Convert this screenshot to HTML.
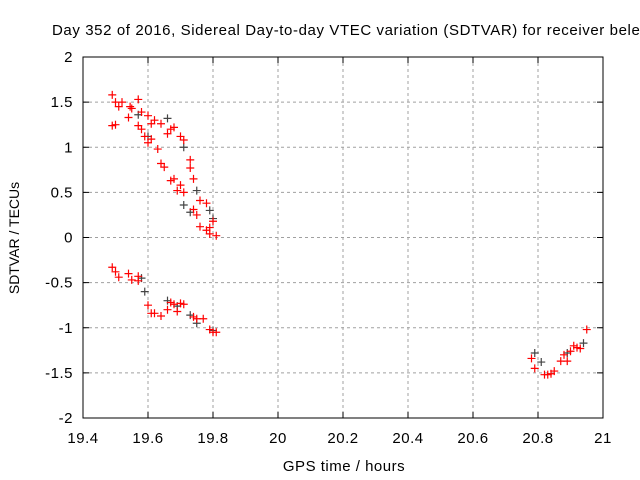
<!DOCTYPE html>
<html><head><meta charset="utf-8"><style>
body{margin:0;background:#fff;}
svg{display:block;font-family:"Liberation Sans",sans-serif;}
</style></head><body>
<svg id="chart" width="640" height="480" viewBox="0 0 640 480">
<text x="52" y="35" font-size="15" letter-spacing="0.6" fill="#000">Day 352 of 2016, Sidereal Day-to-day VTEC variation (SDTVAR) for receiver bele</text>
<g id="grid"></g><g id="axes"></g><g id="marks"></g>
<text x="344" y="471" font-size="15" letter-spacing="0.5" text-anchor="middle">GPS time / hours</text>
<text transform="translate(19,238) rotate(-90)" font-size="14" text-anchor="middle">SDTVAR / TECUs</text>
</svg>
<script>
const xTicks=[19.4,19.6,19.8,20,20.2,20.4,20.6,20.8,21];
const yTicks=[-2,-1.5,-1,-0.5,0,0.5,1,1.5,2];
const redX=[19.49,19.50,19.51,19.52,19.49,19.50,19.54,19.545,19.55,19.57,19.57,19.58,19.58,19.59,19.60,19.60,19.61,19.61,19.62,19.63,19.64,19.64,19.65,19.66,19.67,19.67,19.68,19.68,19.69,19.70,19.70,19.71,19.73,19.73,19.74,19.74,19.75,19.76,19.76,19.78,19.78,19.79,19.80,19.81,19.79,19.71,
19.49,19.50,19.51,19.54,19.55,19.57,19.57,19.60,19.61,19.62,19.64,19.66,19.67,19.68,19.69,19.70,19.71,19.74,19.75,19.77,19.79,19.80,19.81,
20.78,20.79,20.82,20.83,20.84,20.85,20.87,20.88,20.89,20.90,20.91,20.92,20.93,20.95];
const redY=[1.58,1.50,1.45,1.50,1.24,1.25,1.33,1.45,1.43,1.53,1.24,1.39,1.20,1.12,1.35,1.05,1.26,1.09,1.30,0.98,1.26,0.82,0.78,1.15,1.20,0.63,0.65,1.22,0.52,0.58,1.12,1.08,0.86,0.77,0.65,0.31,0.25,0.41,0.12,0.38,0.08,0.04,0.18,0.02,0.11,0.50,
-0.33,-0.38,-0.44,-0.40,-0.47,-0.48,-0.43,-0.75,-0.84,-0.84,-0.87,-0.80,-0.72,-0.74,-0.82,-0.73,-0.74,-0.88,-0.90,-0.90,-1.02,-1.05,-1.05,
-1.34,-1.45,-1.52,-1.52,-1.51,-1.48,-1.37,-1.30,-1.37,-1.26,-1.20,-1.22,-1.23,-1.02];
const grayX=[19.57,19.60,19.66,19.71,19.71,19.73,19.75,19.79,19.80,19.58,19.59,19.66,19.69,19.73,19.75,19.80,20.79,20.81,20.94,20.89];
const grayY=[1.36,1.12,1.32,1.00,0.36,0.28,0.52,0.30,0.21,-0.45,-0.60,-0.70,-0.76,-0.86,-0.95,-1.03,-1.28,-1.38,-1.17,-1.28];
const L=83,R=603,T=57,B=418;
const sx=v=>L+(v-19.4)/1.6*(R-L);
const sy=v=>B-(v+2)/4*(B-T);
const NS="http://www.w3.org/2000/svg";
function mk(t,a,p){const e=document.createElementNS(NS,t);for(const k in a)e.setAttribute(k,a[k]);p.appendChild(e);return e;}
const grid=document.getElementById('grid'),axes=document.getElementById('axes'),marks=document.getElementById('marks');
xTicks.forEach(v=>{const x=sx(v);
 if(v>19.4&&v<21){const g=mk('line',{x1:x,x2:x,y1:T,y2:B,stroke:'#a0a0a0','stroke-dasharray':'3,3'},grid);}
 mk('line',{x1:x,x2:x,y1:B,y2:B-6,stroke:'#000'},axes);mk('line',{x1:x,x2:x,y1:T,y2:T+6,stroke:'#000'},axes);
 const t=mk('text',{x:x,y:B+25,'font-size':15,'letter-spacing':0.5,'text-anchor':'middle'},axes);t.textContent=String(v);
 });
yTicks.forEach(v=>{const y=sy(v);
 if(v>-2&&v<2){const g=mk('line',{x1:L,x2:R,y1:y,y2:y,stroke:'#a0a0a0','stroke-dasharray':'3,3'},grid);}
 mk('line',{x1:L,x2:L+6,y1:y,y2:y,stroke:'#000'},axes);mk('line',{x1:R,x2:R-6,y1:y,y2:y,stroke:'#000'},axes);
 const t=mk('text',{x:L-10,y:y+5,'font-size':15,'letter-spacing':0.5,'text-anchor':'end'},axes);t.textContent=String(v);
 });
const f=mk('rect',{x:L,y:T,width:R-L,height:B-T,fill:'none',stroke:'#000'},axes);

function plus(x,y,c,name){const p=mk('path',{d:`M${x-4},${y}h8M${x},${y-4}v8`,stroke:c,'stroke-width':1.2},marks);
 }
grayX.forEach((v,i)=>plus(sx(v),sy(grayY[i]),'#444','point-gray'));
redX.forEach((v,i)=>plus(sx(v),sy(redY[i]),'#ff0000','point-red'));
</script>
</body></html>
